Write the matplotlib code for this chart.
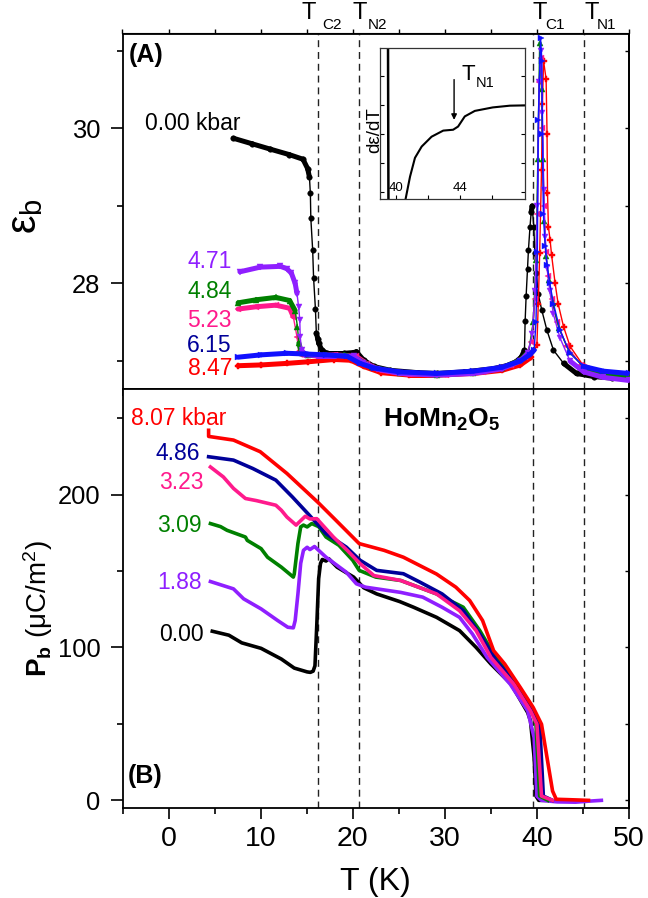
import numpy as np
import matplotlib
matplotlib.use("Agg")
import matplotlib.pyplot as plt
from matplotlib.ticker import MultipleLocator, FixedLocator, NullFormatter
from matplotlib.collections import LineCollection
import matplotlib.transforms as mtrans

plt.rcParams['font.family'] = 'Liberation Sans'
plt.rcParams['mathtext.fontset'] = 'custom'
plt.rcParams['mathtext.rm'] = 'Liberation Sans'
plt.rcParams['mathtext.it'] = 'Liberation Sans:italic'
plt.rcParams['mathtext.bf'] = 'Liberation Sans:bold'

# ---------------- data: panel A (dielectric constant) ----------------
eps_black_T = [7.05, 9.05, 11.05, 13.1, 14.6, 15.1, 15.3, 15.4, 15.45, 15.65, 15.75, 15.95, 16.05, 16.2, 16.3,
               16.65, 17.2, 19.1, 20.1, 20.4, 21.2, 22.3, 24.1, 27.1, 29.1, 32.1, 35.2, 36.7, 37.7, 38.3,
               38.65, 38.72, 38.83, 38.98, 39.08, 39.25, 39.38, 39.48, 39.66, 39.78, 39.95, 40.13, 40.52,
               41.08, 41.8, 42.9, 44.3, 46.2, 48.2, 50]
eps_black = [29.87, 29.80, 29.73, 29.66, 29.60, 29.48, 29.37, 29.16, 28.84, 28.43, 28.07, 27.67, 27.36, 27.29,
             27.23, 27.14, 27.10, 27.10, 27.11, 27.12, 27.01, 26.93, 26.88, 26.85, 26.84, 26.86, 26.90, 26.94,
             26.99, 27.05, 27.14, 27.51, 27.84, 28.19, 28.43, 28.73, 28.92, 29.00, 28.73, 28.39, 28.13, 27.87,
             27.66, 27.40, 27.14, 26.97, 26.84, 26.80, 26.78, 26.77]

eps_purple_T = [7.75, 9.95, 12.15, 12.85, 13.35, 13.75, 13.95, 14.12, 14.25, 14.3, 14.45, 14.85, 16.1, 18.1,
                20.1, 21.1, 22.6, 25.1, 29.1, 33.1, 36.2, 38.2, 39.0, 39.5, 39.8, 40.05, 40.25, 40.45, 40.6,
                40.75, 40.9, 41.1, 41.4, 41.8, 42.5, 43.6, 45.1, 47.2, 50]
eps_purple = [28.15, 28.21, 28.22, 28.19, 28.13, 28.00, 27.87, 27.70, 27.53, 27.31, 27.14, 27.08, 27.07, 27.07,
              27.06, 26.98, 26.90, 26.84, 26.82, 26.84, 26.90, 27.00, 27.10, 27.35, 27.9, 29.0, 30.6, 31.0,
              30.2, 29.2, 28.6, 28.2, 27.9, 27.6, 27.3, 27.0, 26.86, 26.79, 26.75]

eps_green_T = [7.55, 9.55, 11.65, 13.15, 13.75, 14.0, 14.15, 14.45, 15.1, 17.1, 19.1, 20.6, 22.1, 25.1, 29.1,
               33.1, 36.2, 38.2, 39.1, 39.6, 39.9, 40.1, 40.3, 40.5, 40.65, 40.8, 41.0, 41.3, 41.7, 42.4,
               43.5, 45.1, 47.2, 50]
eps_green = [27.75, 27.79, 27.82, 27.78, 27.65, 27.44, 27.23, 27.10, 27.08, 27.08, 27.08, 27.02, 26.92, 26.85,
             26.82, 26.85, 26.91, 27.01, 27.12, 27.5, 28.3, 29.6, 31.1, 30.5, 29.6, 28.8, 28.35, 28.05, 27.75,
             27.42, 27.12, 26.92, 26.84, 26.80]

eps_pink_T = [7.55, 9.55, 11.65, 13.15, 13.55, 13.95, 14.15, 14.55, 16.1, 18.1, 20.4, 21.6, 23.1, 26.1, 30.1,
              34.1, 37.2, 38.7, 39.4, 39.8, 40.05, 40.25, 40.45, 40.6, 40.75, 40.95, 41.2, 41.6, 42.2, 43.2,
              44.8, 47.2, 50]
eps_pink = [27.67, 27.70, 27.72, 27.68, 27.57, 27.31, 27.12, 27.08, 27.07, 27.08, 27.06, 26.96, 26.88, 26.83,
            26.82, 26.86, 26.95, 27.05, 27.25, 27.8, 28.9, 30.6, 30.9, 30.0, 29.0, 28.4, 28.1, 27.8, 27.5,
            27.2, 26.95, 26.83, 26.78]

eps_blue_T = [7.55, 10.05, 12.85, 15.1, 17.1, 19.4, 20.8, 22.3, 25.1, 29.1, 33.1, 36.2, 38.2, 39.2, 39.7,
              39.9, 40.05, 40.15, 40.4, 40.54, 40.6, 40.7, 40.9, 41.1, 41.4, 41.8, 42.5, 43.6, 45.1, 47.2, 50]
eps_blue = [27.05, 27.08, 27.10, 27.09, 27.08, 27.06, 26.97, 26.91, 26.86, 26.84, 26.87, 26.92, 27.00, 27.08,
            27.14, 27.5, 28.4, 30.1, 31.16, 30.87, 29.93, 28.9, 28.48, 28.24, 28.0, 27.74, 27.40, 27.10,
            26.93, 26.87, 26.84]

eps_red_T = [7.55, 10.05, 12.85, 15.1, 18.0, 19.8, 21.2, 23.1, 26.1, 29.1, 33.1, 36.2, 38.2, 39.4, 40.0,
             40.15, 40.3, 40.5, 40.6, 40.72, 41.0, 41.1, 41.15, 41.25, 41.43, 41.6, 41.98, 42.3, 42.9, 43.6,
             45.1, 47.2, 50]
eps_red = [26.94, 26.95, 26.97, 26.99, 27.02, 27.01, 26.93, 26.85, 26.82, 26.82, 26.84, 26.88, 26.95, 27.05,
           27.21, 27.74, 28.39, 29.46, 30.31, 30.87, 30.63, 29.93, 29.16, 28.73, 28.56, 28.36, 28.0, 27.74,
           27.44, 27.19, 26.93, 26.84, 26.80]

eps_pressures = ["0.00 kbar", "4.71", "4.84", "5.23", "6.15", "8.47"]

# inset: d(eps)/dT (arb. units)
inset_T = [40.61, 40.88, 41.19, 41.61, 42.23, 42.96, 43.58, 43.89, 44.31, 44.94, 46.06, 47.13, 48.06]
inset_d = [-0.21, 0.54, 1.19, 1.58, 1.92, 2.13, 2.16, 2.27, 2.62, 2.81, 2.93, 2.99, 3.00]
inset_spike_T = [39.50, 39.53]
inset_spike_d = [5.5, -0.5]
inset_TN1 = 43.64

# ---------------- data: panel B (polarization) ----------------
P_black_T = [4.75, 6.55, 7.95, 10.05, 12.25, 13.65, 15.05, 15.4, 15.7, 15.9, 16.1, 16.3, 16.5, 16.7, 17.1,
             17.4, 18.3, 20.1, 21.2, 22.6, 25.1, 26.6, 29.1, 31.6, 33.4, 35.0, 37.2, 39.0, 39.3, 39.7, 39.9,
             40.2, 41.2]
P_black = [110.6, 108, 103, 99.4, 92.4, 86.5, 84, 83.7, 84.5, 88, 115, 145, 155, 157.5, 156.5, 158, 152.5,
           146, 139, 135, 130, 126.3, 119.7, 111, 100, 89.2, 76, 57.4, 52, 28, 2.8, 0, 0]

P_purple_T = [4.55, 7.05, 8.15, 10.05, 11.85, 12.95, 13.55, 13.75, 14.05, 14.35, 14.65, 15.05, 15.35, 15.85,
              17.1, 19.3, 20.4, 21.4, 25.2, 27.6, 29.7, 31.6, 33.0, 34.6, 37.1, 39.0, 39.7, 40.0, 40.5,
              42.2, 44.2, 45.7, 47.0]
P_purple = [143.1, 138.3, 131.8, 125.2, 117.6, 113.2, 112.8, 117.6, 135, 155, 163.5, 165.5, 164, 166, 159,
            149.2, 141.6, 139.4, 136, 132.9, 126.3, 119.7, 108.8, 93.5, 76, 58.6, 41, 2.8, 0, -1, -1.2,
            -0.5, 0]

P_green_T = [4.55, 5.65, 6.35, 8.35, 8.55, 10.05, 10.75, 12.25, 13.55, 13.65, 14.05, 14.35, 14.65, 15.05,
             15.55, 16.3, 17.1, 18.5, 20.0, 20.7, 22.5, 25.2, 29.1, 32.0, 33.8, 35.3, 37.5, 39.3, 39.9,
             40.3, 41.2]
P_green = [181, 179, 176.6, 172.2, 170, 164.6, 159, 152.5, 146, 148, 168, 178.8, 180, 178.8, 181, 179,
           172.2, 166.8, 157, 150.4, 146, 143.8, 135, 126.3, 111, 95.7, 78.2, 63, 49.8, 2.8, 0]

P_pink_T = [4.55, 5.95, 7.05, 8.35, 9.55, 11.65, 12.25, 12.85, 13.85, 14.85, 15.35, 16.1, 17.9, 19.4, 20.8,
            22.3, 25.2, 29.1, 31.6, 33.4, 35.0, 37.5, 39.3, 40.0, 40.5, 41.7]
P_pink = [218, 211.5, 204, 197.4, 196, 193, 189.7, 185.3, 180, 185.8, 184, 184.2, 172.2, 163.5, 154.8, 147,
          143.8, 135, 124, 111, 93.5, 76, 58.6, 49.8, 2.8, 0]

P_navy_T = [4.35, 7.05, 9.15, 11.65, 13.45, 15.3, 17.1, 19.3, 20.8, 22.6, 25.5, 27.3, 29.7, 32.0, 33.8, 35.6,
            37.8, 39.3, 40.3, 40.7, 41.7]
P_navy = [224.7, 222.5, 217, 209.4, 198.4, 186.4, 174.4, 165.6, 157, 150.4, 148.2, 142.7, 135, 124.1, 108.8,
          91.3, 76, 60.7, 49.8, 2.8, 0]

P_red_T = [4.35, 4.35, 7.05, 9.95, 12.85, 16.2, 18.0, 20.7, 23.4, 25.5, 29.1, 31.2, 32.7, 34.1, 35.3, 36.5,
           38.2, 39.6, 40.5, 41.1, 41.7, 42.1, 43.2, 45.6]
P_red = [242, 238, 235.6, 228, 213.8, 195, 184.2, 167.9, 163.5, 159, 148, 139.4, 130.7, 117.6, 97.9, 89.2,
         73.8, 60.7, 49.8, 27.9, 6.1, 0.7, 0.5, 0]

P_pressures = ["8.07 kbar", "4.86", "3.23", "3.09", "1.88", "0.00"]

transition_T = [16.2, 20.7, 39.6, 45.1]
transition_subs = ["C2", "N2", "C1", "N1"]

# ---------------- colours ----------------
c_black = "#000000"
c_purple = "#8f1fff"
c_green = "#008000"
c_pink = "#ff1a8c"
c_blue = "#1010ff"
c_navy = "#000099"
c_red = "#ff0000"

# ---------------- figure ----------------
W, H = 648, 898
fig = plt.figure(figsize=(W / 100, H / 100), dpi=100)
x0, x1 = 122.5, 629.0
yA_top, yA_bot = 33.5, 389.0
yB_bot = 808.0
ax1 = fig.add_axes([x0 / W, 1 - yA_bot / H, (x1 - x0) / W, (yA_bot - yA_top) / H])
ax2 = fig.add_axes([x0 / W, 1 - yB_bot / H, (x1 - x0) / W, (yB_bot - yA_bot) / H])

for ax in (ax1, ax2):
    for s in ax.spines.values():
        s.set_linewidth(1.3)
    ax.set_xlim(-5, 50)
    ax.xaxis.set_major_locator(MultipleLocator(10))
    ax.xaxis.set_minor_locator(MultipleLocator(5))

ax1.set_ylim(26.64, 31.22)
ax2.set_ylim(-5, 269)
ax1.yaxis.set_major_locator(MultipleLocator(2))
ax1.yaxis.set_minor_locator(MultipleLocator(1))
ax2.yaxis.set_major_locator(MultipleLocator(100))
ax2.yaxis.set_minor_locator(MultipleLocator(50))

ax1.tick_params(axis='x', which='major', direction='out', length=10, width=1.2, labelbottom=False)
ax1.tick_params(axis='x', which='minor', direction='out', length=5, width=1.2)
ax2.tick_params(axis='x', which='major', direction='out', length=8, width=1.2, labelsize=20.5, pad=5)
ax2.tick_params(axis='x', which='minor', direction='out', length=4, width=1.2)
for ax in (ax1, ax2):
    ax.tick_params(axis='y', which='major', direction='out', length=9, width=1.2, labelsize=18.4, pad=7)
    ax.tick_params(axis='y', which='minor', direction='out', length=4, width=1.2)
    sy = ax.secondary_yaxis('right')
    sy.yaxis.set_major_locator(ax.yaxis.get_major_locator())
    sy.yaxis.set_minor_locator(ax.yaxis.get_minor_locator())
    sy.tick_params(which='both', direction='in', length=3, width=1.0, labelright=False)
    sy.yaxis.set_major_formatter(NullFormatter())
    sy.spines['right'].set_linewidth(1.3)
sx = ax1.secondary_xaxis('top')
sx.xaxis.set_major_locator(MultipleLocator(10))
sx.xaxis.set_minor_locator(MultipleLocator(5))
sx.tick_params(which='both', direction='out', length=3, width=1.0, labeltop=False)
sx.xaxis.set_major_formatter(NullFormatter())
ax2.tick_params(axis='x', top=False)


def draw_eps(ax, T, e, color, marker, ms, z):
    T = np.asarray(T, float)
    e = np.asarray(e, float)
    ax.plot(T, e, '-', color=color, lw=1.0, marker=marker, ms=ms, mec=color, mfc=color, mew=0.3, zorder=z)
    segs = []
    for i in range(len(T) - 1):
        if abs(e[i + 1] - e[i]) < 0.16:
            segs.append([(T[i], e[i]), (T[i + 1], e[i + 1])])
    lc = LineCollection(segs, colors=color, linewidths=3.6, capstyle='round', zorder=z)
    ax.add_collection(lc)


draw_eps(ax1, eps_black_T, eps_black, c_black, 'o', 4.0, 3)
draw_eps(ax1, eps_red_T, eps_red, c_red, 'P', 4.5, 4)
draw_eps(ax1, eps_pink_T, eps_pink, c_pink, '<', 4.5, 5)
draw_eps(ax1, eps_green_T, eps_green, c_green, '^', 4.5, 6)
draw_eps(ax1, eps_purple_T, eps_purple, c_purple, 'v', 4.5, 7)
draw_eps(ax1, eps_blue_T, eps_blue, c_blue, '>', 4.5, 8)

# pressure labels panel A
lab_fs = 16.5
ax1.text(7.78, 29.978, eps_pressures[0], color=c_black, fontsize=lab_fs, ha='right', va='baseline')
ax1.text(6.88, 28.194, eps_pressures[1], color=c_purple, fontsize=lab_fs, ha='right', va='baseline')
ax1.text(6.88, 27.806, eps_pressures[2], color=c_green, fontsize=lab_fs, ha='right', va='baseline')
ax1.text(6.88, 27.44, eps_pressures[3], color=c_pink, fontsize=lab_fs, ha='right', va='baseline')
ax1.text(6.88, 27.12, eps_pressures[4], color=c_navy, fontsize=lab_fs, ha='right', va='baseline')
ax1.text(6.88, 26.82, eps_pressures[5], color=c_red, fontsize=lab_fs, ha='right', va='baseline')
ax1.text(-4.34, 30.85, "(A)", fontsize=18, fontweight='bold', ha='left', va='baseline')

# panel B curves
ax2.plot(P_black_T, P_black, color=c_black, lw=2.6, zorder=3, solid_joinstyle='round')
ax2.plot(P_purple_T, P_purple, color=c_purple, lw=2.6, zorder=4, solid_joinstyle='round')
ax2.plot(P_green_T, P_green, color=c_green, lw=2.6, zorder=5, solid_joinstyle='round')
ax2.plot(P_navy_T, P_navy, color=c_navy, lw=2.6, zorder=6, solid_joinstyle='round')
ax2.plot(P_pink_T, P_pink, color=c_pink, lw=2.6, zorder=7, solid_joinstyle='round')
ax2.plot(P_red_T, P_red, color=c_red, lw=2.6, zorder=8, solid_joinstyle='round')

ax2.text(6.26, 245.4, P_pressures[0], color=c_red, fontsize=lab_fs, ha='right', va='baseline')
ax2.text(3.44, 222.5, P_pressures[1], color=c_navy, fontsize=lab_fs, ha='right', va='baseline')
ax2.text(3.80, 203.9, P_pressures[2], color=c_pink, fontsize=lab_fs, ha='right', va='baseline')
ax2.text(3.63, 175.5, P_pressures[3], color=c_green, fontsize=lab_fs, ha='right', va='baseline')
ax2.text(3.63, 138.4, P_pressures[4], color=c_purple, fontsize=lab_fs, ha='right', va='baseline')
ax2.text(3.80, 104.5, P_pressures[5], color=c_black, fontsize=lab_fs, ha='right', va='baseline')
ax2.text(-4.38, 11.5, "(B)", fontsize=18, fontweight='bold', ha='left', va='baseline')
ax2.text(23.3, 244, r"$\mathbf{HoMn_2O_5}$", fontsize=19, ha='left', va='baseline')

# dashed transition lines
for t in transition_T:
    for ax in (ax1, ax2):
        ax.axvline(t, color='#222222', lw=1.0, ls=(0, (5, 3.5)), zorder=2)

# transition labels above panel A (T with lowered subscript)
trans = mtrans.blended_transform_factory(ax1.transData, ax1.transAxes)
lab_x = [14.48, 20.02, 39.57, 45.14]
sub_dx_px = [20, 14.7, 12.5, 12.7]
for xl, sub, dx in zip(lab_x, transition_subs, sub_dx_px):
    ax1.text(xl, 1.0416, "T", transform=trans, fontsize=17, ha='left', va='baseline', clip_on=False)
    ax1.annotate(sub, xy=(xl, 1.0416), xycoords=trans, xytext=(dx * 0.72, -10.5 * 0.72),
                 textcoords='offset points', fontsize=11, ha='left', va='baseline', annotation_clip=False)

# axis labels
fig.text(25 / W, 1 - 216 / H, r"$\mathregular{ε_b}$", fontsize=30, rotation=90, ha='center', va='center')
fig.text(38 / W, 1 - 609 / H, r"$\mathbf{P_b}$ (μC/m$^{\mathregular{2}}$)", fontsize=20, rotation=90,
         ha='center', va='center')
fig.text(375 / W, 1 - 890 / H, "T (K)", fontsize=23, ha='center', va='baseline')

# inset
ix0, ix1, iy0, iy1 = 380.0, 525.3, 48.3, 199.0
axi = fig.add_axes([ix0 / W, 1 - iy1 / H, (ix1 - ix0) / W, (iy1 - iy0) / H])
axi.set_xlim(39.0, 48.1)
axi.set_ylim(-0.23, 4.97)
axi.plot(inset_T, inset_d, color='black', lw=1.5)
axi.plot(inset_spike_T, inset_spike_d, color='black', lw=1.8)
for s in axi.spines.values():
    s.set_linewidth(0.9)
    s.set_color('#333333')
axi.xaxis.set_major_locator(FixedLocator([40, 44]))
axi.xaxis.set_minor_locator(FixedLocator([42, 46]))
axi.yaxis.set_major_locator(FixedLocator([0, 1, 2, 3, 4]))
axi.tick_params(axis='x', which='both', direction='in', length=3, width=0.8, labelsize=9.5, pad=-12)
axi.tick_params(axis='y', which='both', direction='in', length=3, width=0.8, left=True, right=True,
                labelleft=False)
axi.annotate("", xy=(inset_TN1, 2.50), xytext=(inset_TN1, 3.89),
             arrowprops=dict(arrowstyle='-|>', color='black', lw=1.0, mutation_scale=8, shrinkA=0, shrinkB=0))
axi.text(44.1, 3.89, "T", fontsize=16, ha='left', va='baseline')
axi.annotate("N1", xy=(44.1, 3.89), xycoords='data', xytext=(14.5 * 0.72, -7 * 0.72),
             textcoords='offset points', fontsize=10.5, ha='left', va='baseline')
fig.text(375 / W, 1 - 130 / H, "dε/dT", fontsize=13.5, rotation=90, ha='center', va='center')

fig.savefig("out.png", dpi=100)
